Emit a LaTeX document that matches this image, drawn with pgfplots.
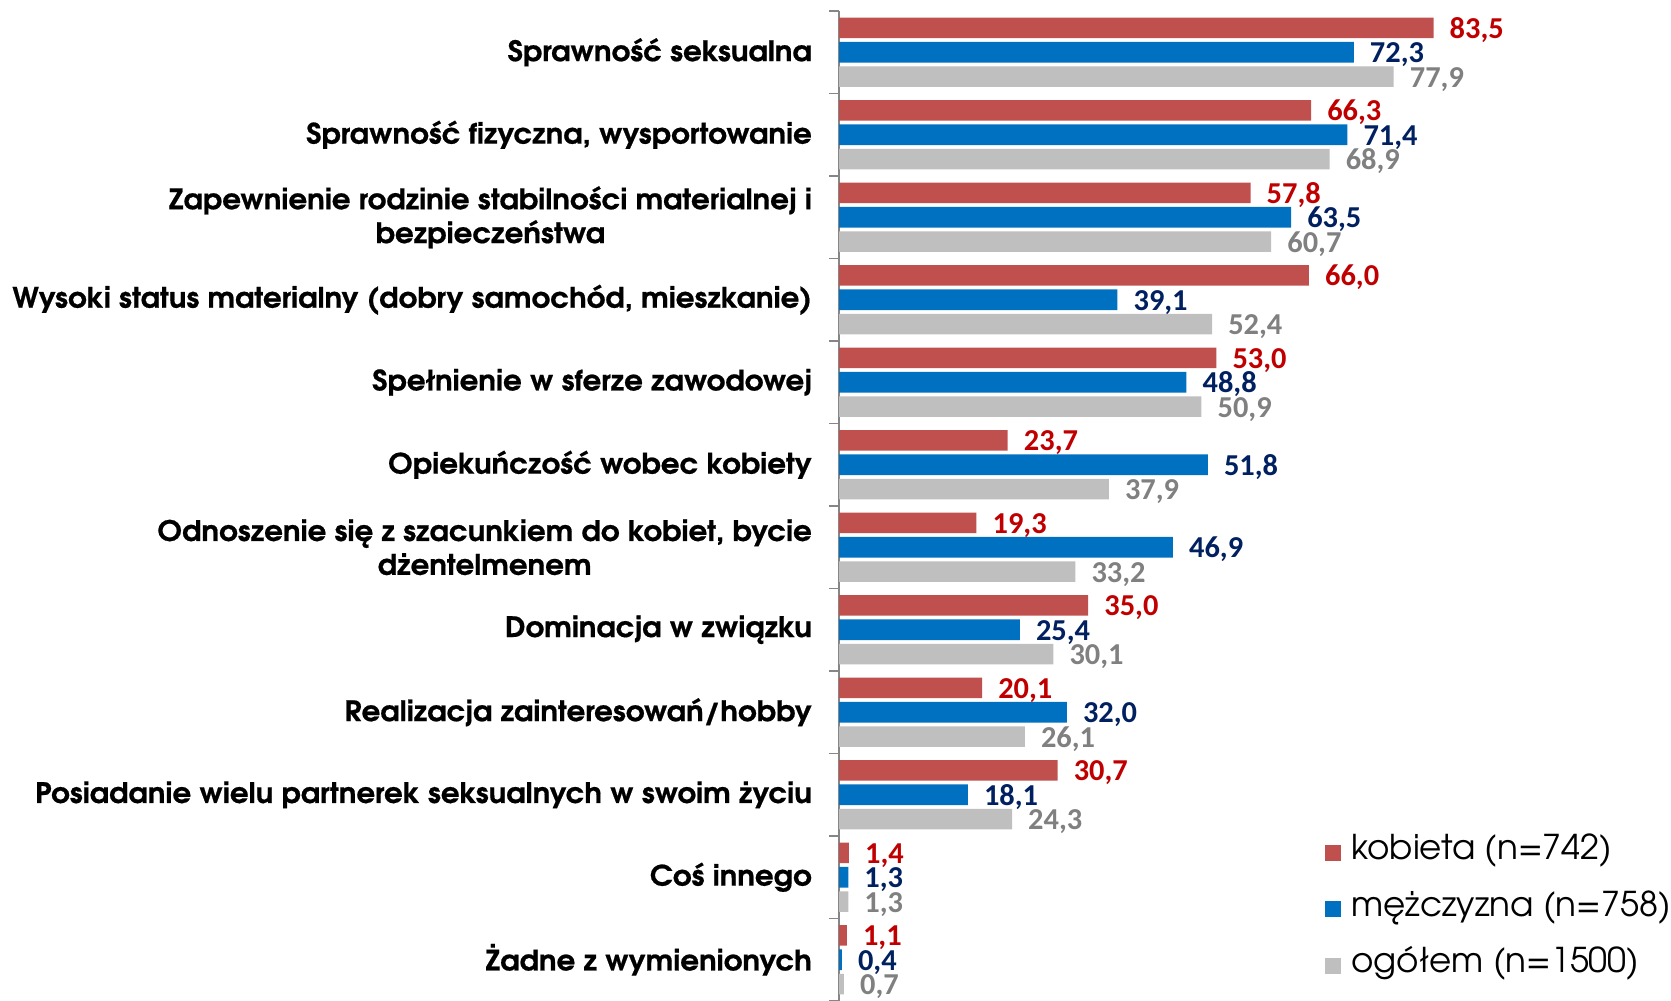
\documentclass[border=0pt]{standalone}
\usepackage{fontspec}
\usepackage{pgfplots}
\usepackage{pgfplotstable}
\pgfplotsset{compat=1.18}
\newfontfamily\advfont{TeX Gyre Adventor}
\newfontfamily\advlab[FakeStretch=1.04, BoldFeatures={FakeBold=0.6}]{TeX Gyre Adventor}
\newfontfamily\calfont{Carlito}
\definecolor{cred}{HTML}{C0504D}
\definecolor{cblue}{HTML}{0070C0}
\definecolor{cgray}{HTML}{BFBFBF}
\definecolor{lred}{HTML}{C00000}
\definecolor{lblue}{HTML}{002060}
\definecolor{lgray}{HTML}{808080}
\definecolor{axgray}{HTML}{868686}
\pgfplotstableread{
y kob mez og
0 83.5 72.3 77.9
1 66.3 71.4 68.9
2 57.8 63.5 60.7
3 66.0 39.1 52.4
4 53.0 48.8 50.9
5 23.7 51.8 37.9
6 19.3 46.9 33.2
7 35.0 25.4 30.1
8 20.1 32.0 26.1
9 30.7 18.1 24.3
10 1.4 1.3 1.3
11 1.1 0.4 0.7
}\data
\begin{document}
\begin{tikzpicture}
\path[use as bounding box] (0,0) rectangle (1671bp,1001bp);
\begin{axis}[
 at={(839bp,0bp)}, anchor=south west,
 scale only axis, width=712bp, height=990bp,
 xmin=0, xmax=100, ymin=-0.5, ymax=11.5, y dir=reverse,
 hide x axis, axis y line*=left,
 y axis line style={draw=axgray, line width=1.2bp},
 ytick={0,...,11}, major tick length=0pt,
 minor ytick={-0.5,0.5,...,11.5}, minor tick length=10bp,
 tick align=outside,
 minor tick style={draw=axgray, line width=1.2bp},
 yticklabels={{Sprawność seksualna},{Sprawność fizyczna, wysportowanie},{Zapewnienie rodzinie stabilności materialnej i\\bezpieczeństwa},{Wysoki status materialny (dobry samochód, mieszkanie)},{Spełnienie w sferze zawodowej},{Opiekuńczość wobec kobiety},{Odnoszenie się z szacunkiem do kobiet, bycie\\dżentelmenem},{Dominacja w związku},{Realizacja zainteresowań/hobby},{Posiadanie wielu partnerek seksualnych w swoim życiu},{Coś innego},{Żadne z wymienionych}},
 yticklabel style={font=\advlab\bfseries\fontsize{28.3}{34}\selectfont, align=center, inner sep=0pt, xshift=-27bp},
 xbar, bar width=0.25,
 nodes near coords={\pgfmathprintnumber[fixed,fixed zerofill,precision=1,use comma,assume math mode=true]{\pgfplotspointmeta}},
 every node near coord/.append style={font=\calfont\bfseries\fontsize{30.5}{30}\selectfont, anchor=base west, inner sep=0pt, xshift=16bp, yshift=-10.5bp},
 legend style={at={(axis cs:68.3,10.39)}, anchor=west, draw=none, fill=none, inner sep=0pt, outer sep=0pt, font=\advfont\fontsize{34.3}{34}\selectfont, row sep=28.5bp, nodes={inner sep=0pt, text height=21bp, text depth=7bp}},
 legend cell align=left,
]
\addplot[fill=cred, draw=none, bar shift=-0.295, every node near coord/.append style={text=lred},
  legend image code/.code={\fill[cred] (0bp,-8bp) rectangle (16bp,8bp); \path (26bp,0bp);}] table[x=kob,y=y]{\data};
\addlegendentry{kobieta (n=742)}
\addplot[fill=cblue, draw=none, bar shift=0, every node near coord/.append style={text=lblue},
  legend image code/.code={\fill[cblue] (0bp,-8bp) rectangle (16bp,8bp); \path (26bp,0bp);}] table[x=mez,y=y]{\data};
\addlegendentry{mężczyzna (n=758)}
\addplot[fill=cgray, draw=none, bar shift=0.295, every node near coord/.append style={text=lgray},
  legend image code/.code={\fill[cgray] (0bp,-8bp) rectangle (16bp,8bp); \path (26bp,0bp);}] table[x=og,y=y]{\data};
\addlegendentry{ogółem (n=1500)}
\end{axis}
\end{tikzpicture}
\end{document}
